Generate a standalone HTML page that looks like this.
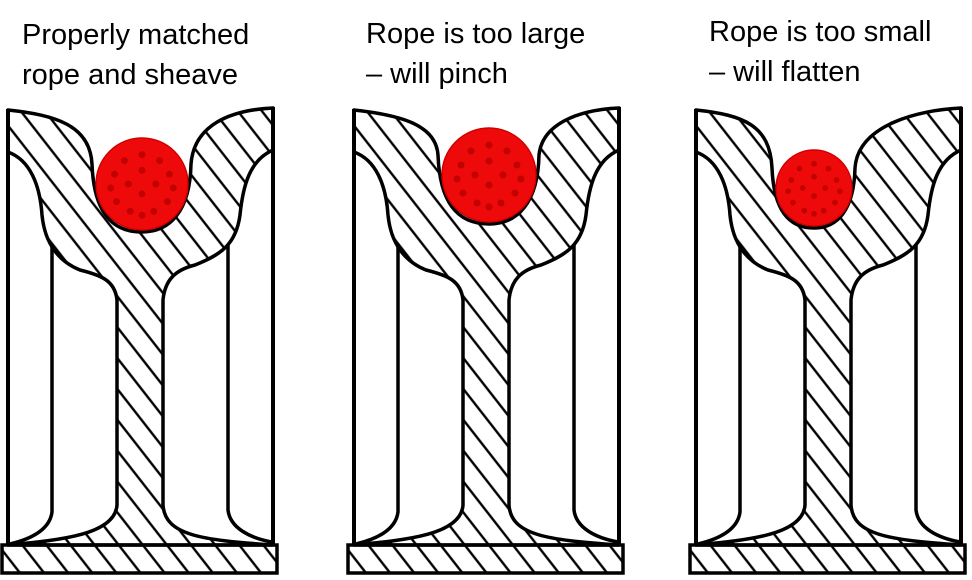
<!DOCTYPE html>
<html><head><style>
html,body{margin:0;padding:0;background:#fff;width:972px;height:580px;overflow:hidden}
.t{position:absolute;font-family:"Liberation Sans",sans-serif;font-size:29px;line-height:40px;color:#000;white-space:nowrap}
</style></head><body>
<div class="t" style="left:22px;top:15px">Properly matched<br>rope and sheave</div>
<div class="t" style="left:366px;top:14px">Rope is too large<br>– will pinch</div>
<div class="t" style="left:709px;top:12px">Rope is too small<br>– will flatten</div>
<svg id="s" width="972" height="580" style="position:absolute;left:0;top:0">
<defs>
<pattern id="h" width="19" height="19" patternUnits="userSpaceOnUse" patternTransform="rotate(-38)">
<line x1="5" y1="0" x2="5" y2="19" stroke="#000" stroke-width="2.4"/>
</pattern>
</defs>
</svg>
<script>
const s=document.getElementById('s');
const panels=[[0,142,184,46],[346,143,175,47],[688,126,188,38]];
let out='';
for(const [dx,cx,cy,r] of panels){
 const L=cx-r,R=cx+r;
 const d=`M8,110 C55,115 ${L-6},125 ${L-4},${cy-20} C${L-2},${cy+r*0.8} ${cx-r*0.5},${cy+r+2} ${cx},${cy+r+2} C${cx+r*0.6},${cy+r+2} ${R+2},${cy+r*0.6} ${R+3},${cy-20} C${R+6},125 230,110 273,108 L273,150 C250,160 243,185 240,215 C236,245 220,255 195,265 C175,270 165,280 163,300 L163,505 C165,535 200,540 273,545 L8,545 C60,540 115,535 117,505 L117,300 C115,280 100,275 80,270 C60,262 45,245 42,215 C40,185 30,160 8,152 Z`;
 let dots='';
 const pts=[[0,-0.75],[-0.45,-0.6],[0.45,-0.6],[-0.7,-0.25],[0,-0.35],[0.7,-0.25],[-0.35,0],[0.35,0],[-0.8,0.1],[0.8,0.1],[0,0.25],[-0.65,0.45],[0.65,0.45],[-0.3,0.7],[0.3,0.7],[0,0.8]];
 for(const [a,b] of pts) dots+=`<circle cx="${cx+a*r*0.85}" cy="${cy+b*r*0.85}" r="${r*0.075}" fill="#c30000"/>`;
 out+=`<g transform="translate(${dx},0)">
 <path d="${d}" fill="url(#h)" stroke="#000" stroke-width="3.5" stroke-linejoin="round"/>
 <rect x="2" y="545" width="275" height="28" fill="url(#h)" stroke="#000" stroke-width="3.5"/>
 <line x1="8" y1="109" x2="8" y2="545" stroke="#000" stroke-width="4"/>
 <line x1="273" y1="107" x2="273" y2="545" stroke="#000" stroke-width="4"/>
 <path d="M52,245 L52,512 C50,528 35,538 10,544" fill="none" stroke="#000" stroke-width="3.5"/>
 <path d="M228,245 L228,510 C230,528 250,538 272,542" fill="none" stroke="#000" stroke-width="3.5"/>
 <circle cx="${cx}" cy="${cy}" r="${r}" fill="#ee0a0a" stroke="#d00000" stroke-width="1.5"/>
 ${dots}
 </g>`;
}
s.insertAdjacentHTML('beforeend',out);
</script>
</body></html>
